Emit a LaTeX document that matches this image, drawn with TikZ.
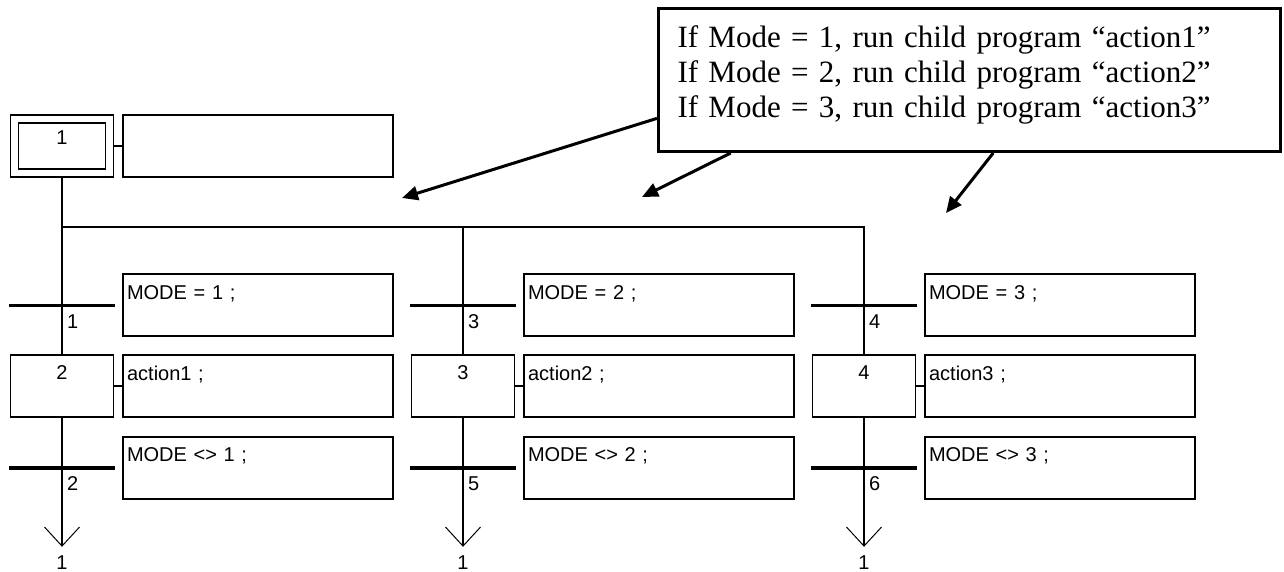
\documentclass[tikz,border=0pt]{standalone}
\usepackage{fontspec}
\setmainfont{Liberation Serif}
\newfontfamily\grafsans{Liberation Sans}
\usetikzlibrary{arrows.meta, positioning}

\begin{document}
\begin{tikzpicture}[
  x=1pt, y=-1pt,
  font=\grafsans\fontsize{20}{24}\selectfont,
  stepbox/.style = {draw, line width=1.6pt, minimum width=103pt, minimum height=62pt,
                    text height=14pt, text depth=28pt, inner ysep=10pt},
  initbox/.style = {draw, line width=1.6pt, double, double distance=6.4pt,
                    minimum width=95pt, minimum height=54pt, outer sep=4.8pt,
                    text height=14pt, text depth=16pt, inner ysep=12pt},
  textbox/.style = {draw, line width=1.6pt, text width=262pt, inner xsep=4pt,
                    text height=14pt, text depth=26pt, inner ysep=11pt, align=left},
  bar/.style     = {fill=black, minimum width=106pt, minimum height=3.5pt, inner sep=0pt},
  num/.style     = {inner sep=2pt},
  link/.style    = {line width=1.6pt},
  back/.style    = {line width=1.6pt,
                    -{Straight Barb[length=19pt, width=35pt, line width=1pt]}},
  note/.style    = {draw, line width=3pt, anchor=north west, align=left,
                    font=\rmfamily\fontsize{31}{35}\selectfont,
                    text width=584pt, inner xsep=19pt, inner ysep=8pt,
                    text height=31pt, text depth=96pt},
  hint/.style    = {line width=3pt, -{Triangle[length=16pt, width=14pt]}},
]
\useasboundingbox (0,0) rectangle (1284,572);

% ---- initial step and the fork into three branches
\node[initbox] (init) at (62,146) {1};
\node[textbox, right=8pt of init] (act1) {};
\coordinate (fork) at (62,227);

% ---- branch 1
\node[stepbox] (s2) at (62,386) {2};
\node[textbox, right=8pt of s2] (a2) {action1 ;};
\node[bar, above=47pt of s2] (t1) {};
\node[textbox, right=7pt of t1] (c1) {MODE = 1 ;};
\node[num, below right=5pt and 3pt of t1.south] (n1) {1};
\node[bar, below=48pt of s2] (t2) {};
\node[textbox, right=7pt of t2] (c2) {MODE <> 1 ;};
\node[num, below right=5pt and 3pt of t2.south] (n2) {2};
\coordinate[below=129pt of s2] (e1);
\node[num, below=7pt of e1] (r1) {1};

% ---- branch 2
\node[stepbox] (s3) at (463,386) {3};
\node[textbox, right=8pt of s3] (a3) {action2 ;};
\node[bar, above=47pt of s3] (t3) {};
\node[textbox, right=7pt of t3] (c3) {MODE = 2 ;};
\node[num, below right=5pt and 3pt of t3.south] (n3) {3};
\node[bar, below=48pt of s3] (t4) {};
\node[textbox, right=7pt of t4] (c4) {MODE <> 2 ;};
\node[num, below right=5pt and 3pt of t4.south] (n4) {5};
\coordinate[below=129pt of s3] (e2);
\node[num, below=7pt of e2] (r2) {1};

% ---- branch 3
\node[stepbox] (s4) at (864,386) {4};
\node[textbox, right=8pt of s4] (a4) {action3 ;};
\node[bar, above=47pt of s4] (t5) {};
\node[textbox, right=7pt of t5] (c5) {MODE = 3 ;};
\node[num, below right=5pt and 3pt of t5.south] (n5) {4};
\node[bar, below=48pt of s4] (t6) {};
\node[textbox, right=7pt of t6] (c6) {MODE <> 3 ;};
\node[num, below right=5pt and 3pt of t6.south] (n6) {6};
\coordinate[below=129pt of s4] (e3);
\node[num, below=7pt of e3] (r3) {1};

% ---- links
\draw[link] (init) -- (act1);
\draw[link] (init) -- (s2);
\draw[link] (fork) -| (s4);
\draw[link] (fork -| s3) -- (s3);
\draw[link] (s2) -- (a2);
\draw[link] (s3) -- (a3);
\draw[link] (s4) -- (a4);
\draw[back] (s2) -- (e1);
\draw[back] (s3) -- (e2);
\draw[back] (s4) -- (e3);

% ---- the callout
\node[note] (memo) at (657,7)
  {If Mode = 1, run child program “action1”\\
   If Mode = 2, run child program “action2”\\
   If Mode = 3, run child program “action3”};
\coordinate (p1) at (402,198);
\coordinate (p2) at (642,197);
\coordinate (p3) at (946,213);
\draw[hint] (memo.187) -- (p1);
\draw[hint] (memo.197) -- (p2);
\draw[hint] (memo.288) -- (p3);

\end{tikzpicture}
\end{document}
